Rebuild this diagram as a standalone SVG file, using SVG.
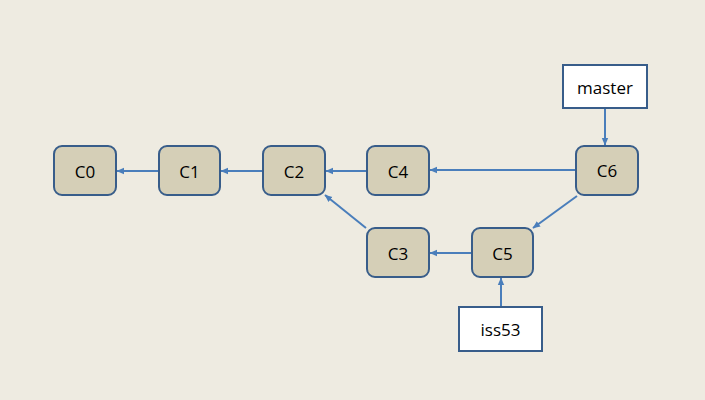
<svg xmlns="http://www.w3.org/2000/svg" width="705" height="400" viewBox="0 0 705 400">
<defs>
<marker id="ah" markerWidth="8" markerHeight="8" refX="7" refY="4" orient="auto" markerUnits="userSpaceOnUse">
<path d="M0,0.8 L7.5,4 L0,7.2 Z" fill="#4A7EBB"/>
</marker>
<style>
.c{fill:#D5CFB7;stroke:#385D8A;stroke-width:2}
.b{fill:#FFFFFF;stroke:#385D8A;stroke-width:2}
.t{font-family:"Open Sans","Liberation Sans",sans-serif;font-size:17px;fill:#000;text-anchor:middle;dominant-baseline:central}
.e{stroke:#4A7EBB;stroke-width:2;fill:none;marker-end:url(#ah)}
</style>
</defs>
<rect width="705" height="400" fill="#EEEBE1"/>
<g id="connectors">
<line class="e" x1="159" y1="171" x2="117" y2="171"/>
<line class="e" x1="263" y1="171" x2="221" y2="171"/>
<line class="e" x1="367" y1="171" x2="326" y2="171"/>
<line class="e" x1="576" y1="170" x2="430" y2="170"/>
<line class="e" x1="577" y1="196" x2="533" y2="228"/>
<line class="e" x1="366" y1="228" x2="325" y2="195"/>
<line class="e" x1="472" y1="253" x2="430" y2="253"/>
<line class="e" x1="501" y1="307" x2="501" y2="278"/>
<line class="e" x1="605" y1="108" x2="605" y2="145"/>
</g>
<g id="C0"><rect class="c" x="54" y="146" width="62" height="49" rx="8"/><text class="t" x="85" y="171">C0</text></g>
<g id="C1"><rect class="c" x="159" y="146" width="61" height="49" rx="8"/><text class="t" x="189.5" y="171">C1</text></g>
<g id="C2"><rect class="c" x="263" y="146" width="62" height="49" rx="8"/><text class="t" x="294" y="171">C2</text></g>
<g id="C4"><rect class="c" x="367" y="146" width="62" height="49" rx="8"/><text class="t" x="398" y="171">C4</text></g>
<g id="C6"><rect class="c" x="576" y="146" width="62" height="49" rx="8"/><text class="t" x="607" y="170">C6</text></g>
<g id="C3"><rect class="c" x="367" y="228" width="62" height="49" rx="8"/><text class="t" x="398" y="253">C3</text></g>
<g id="C5"><rect class="c" x="472" y="228" width="61" height="49" rx="8"/><text class="t" x="502.5" y="253">C5</text></g>
<g id="master"><rect class="b" x="563" y="65" width="84" height="43"/><text class="t" x="605" y="87">master</text></g>
<g id="iss53"><rect class="b" x="459" y="307" width="83" height="44"/><text class="t" x="500.5" y="329">iss53</text></g>
</svg>
